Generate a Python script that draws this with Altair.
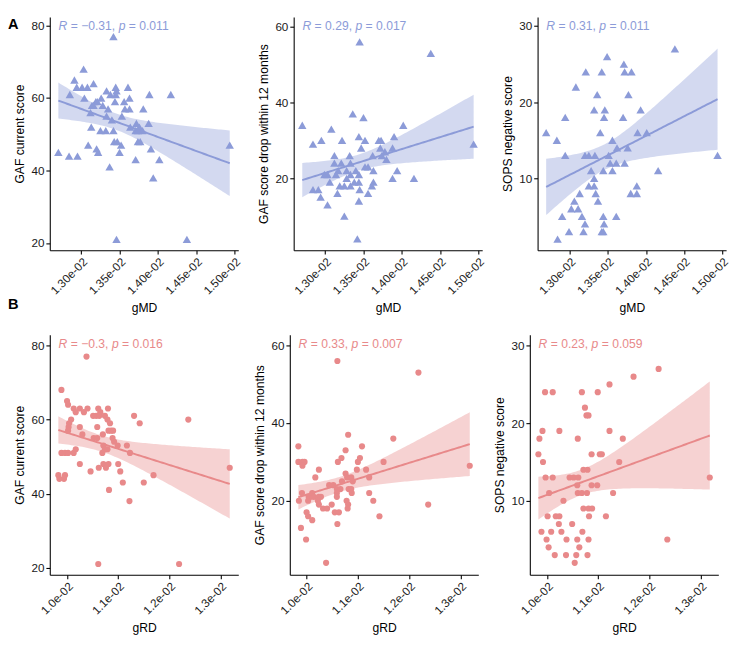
import altair as alt
import numpy as np
import pandas as pd

FONT = "Liberation Sans"
BLUE = "#8C9BD8"
RED = "#E8898A"

# ---------------- data ----------------
# gMD (x 1e-4) vs GAF current score
gmd_gaf_x = [134.2, 130.3, 129.1, 129.4, 130.1, 130.8, 131.6, 134.5, 134.6, 136.1, 128.5, 133.3,
             133.8, 134.5, 130.4, 132.6, 136.3, 138.9, 141.7, 134.4, 135.6, 131.9, 132.1, 131.4,
             131.6, 132.8, 133.5, 135.7, 136.3, 138.1, 131.2, 133.3, 135.3, 134.0, 137.2, 138.8,
             136.4, 137.6, 131.3, 138.0, 132.5, 133.2, 134.2, 137.1, 137.4, 137.4, 137.7, 134.3,
             134.7, 130.9, 135.2, 132.0, 139.1, 132.2, 135.0, 127.0, 128.4, 129.5, 137.1, 140.2,
             133.7, 139.4, 149.4, 134.6, 143.8]
gmd_gaf_y = [77, 68, 65, 63, 63, 63, 64, 63, 62, 63, 61, 62,
             61, 61, 60, 60, 60, 61, 61, 59, 59, 59, 59, 58,
             58, 58, 57, 57, 57, 57, 56, 55, 55, 54, 53, 53,
             52, 52, 52, 51, 51, 51, 51, 51, 51, 48, 48, 48,
             48, 47, 47, 46, 46, 45, 45, 45, 44, 44, 43, 43,
             41, 38, 47, 21, 21]

# gMD (x 1e-4) vs GAF score drop within 12 months
gmd_drop_x = [134.5, 143.8, 133.6, 135.0, 127.0, 140.2, 130.8, 128.4, 129.5, 132.2, 134.4, 135.2,
              137.0, 137.3, 139.0, 134.7, 137.2, 138.8, 149.4, 131.2, 133.2, 136.2, 137.4, 137.8,
              138.0, 131.2, 132.1, 133.3, 135.6, 135.2, 131.7, 132.8, 134.0, 136.3, 139.4, 129.9,
              130.3, 131.4, 133.3, 134.4, 132.8, 138.8, 141.6, 130.6, 133.8, 134.4, 136.3, 131.9,
              132.5, 133.3, 136.1, 128.4, 129.1, 134.5, 131.6, 135.6, 129.4, 134.4, 130.3, 132.5,
              134.2]
gmd_drop_y = [56, 53, 37, 36, 34, 34, 33, 29, 30, 30, 31, 30,
              30, 30, 31, 28, 28, 28, 29, 26, 26, 26, 26, 27,
              25, 24, 24, 24, 23, 23, 22, 22, 22, 22, 22, 21,
              21, 21, 21, 21, 20, 20, 20, 19, 19, 19, 19, 18,
              18, 18, 18, 17, 17, 17, 16, 16, 15, 14, 13, 10,
              4]

# gMD (x 1e-4) vs SOPS negative score
gmd_sops_x = [143.8, 134.9, 137.1, 132.1, 134.2, 137.2, 138.1, 130.8, 133.6, 137.7, 133.2, 134.6,
              139.3, 129.4, 134.5, 137.0, 126.9, 134.0, 138.9, 140.1, 128.3, 135.6, 136.2, 137.6,
              129.4, 132.0, 132.5, 133.3, 135.1, 149.4, 135.3, 136.1, 137.2, 132.8, 134.4, 135.6,
              141.6, 133.2, 132.5, 133.2, 138.8, 131.3, 133.4, 138.0, 138.8, 130.6, 133.7, 130.2,
              131.1, 129.0, 131.6, 134.4, 136.1, 132.0, 134.5, 129.9, 131.8, 134.2, 134.4, 128.4]
gmd_sops_y = [27, 26, 25, 24, 24, 24, 24, 22, 21, 21, 19, 19,
              19, 18, 18, 18, 16, 16, 16, 16, 15, 15, 14, 14,
              13, 13, 13, 13, 13, 13, 12, 12, 12, 11, 11, 11,
              11, 10, 9, 9, 9, 8, 8, 8, 8, 7, 7, 6,
              6, 5, 5, 5, 5, 4, 4, 3, 3, 3, 3, 2]

# gRD (x 1e-3) vs GAF current score
grd_gaf_x = [10.38, 9.89, 10.00, 10.02, 10.13, 10.17, 10.25, 10.33, 10.40, 10.61, 10.65, 10.80,
             10.51, 10.57, 10.63, 10.74, 11.31, 12.37, 10.08, 10.04, 10.03, 10.02, 10.79, 10.84,
             11.42, 10.25, 10.59, 10.81, 10.86, 10.90, 10.30, 10.70, 10.52, 10.59, 10.89, 10.92,
             10.99, 11.17, 10.71, 10.79, 10.74, 10.17, 10.69, 11.23, 9.89, 9.96, 10.02, 10.13,
             10.71, 10.81, 10.25, 11.00, 10.62, 10.76, 13.18, 10.46, 11.04, 9.83, 9.96, 9.85,
             9.94, 11.69, 11.09, 11.50, 10.82, 11.22, 10.61, 12.19]
grd_gaf_y = [77, 68, 65, 64, 63, 62, 63, 62, 63, 63, 62, 63,
             61, 61, 61, 61, 61, 60, 60, 59, 58, 57, 60, 59,
             59, 58, 58, 57, 57, 57, 56, 56, 55, 55, 55, 54,
             53, 53, 53, 52, 52, 52, 51, 51, 51, 51, 51, 51,
             48, 48, 48, 48, 47, 47, 47, 46, 46, 45, 45, 44,
             44, 45, 43, 43, 41, 38, 21, 21]

# gRD (x 1e-3) vs GAF score drop within 12 months
grd_drop_x = [10.60, 12.18, 10.81, 11.69, 9.84, 11.08, 10.76, 10.68, 10.61, 11.04, 11.00, 9.84,
              9.92, 9.96, 9.92, 11.50, 10.24, 10.98, 11.16, 10.76, 10.79, 10.69, 10.87, 10.90,
              11.22, 10.17, 13.18, 10.44, 10.52, 10.59, 10.82, 10.87, 10.66, 10.59, 10.88, 9.91,
              10.11, 11.22, 10.04, 10.08, 10.14, 10.24, 10.28, 10.59, 9.85, 10.03, 10.22, 10.78,
              10.81, 10.80, 11.30, 10.24, 10.32, 10.40, 10.49, 12.37, 10.55, 10.63, 10.00, 10.03,
              11.42, 10.11, 10.60, 9.89, 9.99, 10.38]
grd_drop_y = [56, 53, 37, 36, 34, 34, 33, 31, 30, 31, 30, 30,
              30, 30, 29, 30, 28, 28, 28, 27, 26, 25, 26, 25,
              26, 26, 29, 24, 24, 23, 23, 23, 23, 22, 22, 22,
              22, 22, 21, 21, 21, 21, 21, 21, 20, 20, 20, 20,
              19, 18, 20, 19, 18, 18, 19, 19, 17, 17, 17, 16,
              16, 15, 14, 13, 10, 4]

# gRD (x 1e-3) vs SOPS negative score
grd_sops_x = [12.18, 11.69, 11.22, 9.96, 10.11, 10.68, 10.99, 10.74, 10.77, 10.81, 9.91, 10.24,
              11.22, 9.85, 10.60, 11.48, 9.83, 10.87, 11.03, 11.07, 9.92, 11.41, 10.71, 10.79,
              9.97, 10.11, 10.44, 10.52, 10.61, 13.18, 10.59, 10.87, 10.98, 10.04, 10.60, 10.68,
              10.78, 11.29, 10.32, 10.71, 10.81, 10.88, 10.01, 10.17, 10.24, 10.82, 11.15, 10.23,
              10.49, 9.89, 10.08, 10.28, 10.69, 9.99, 10.38, 10.59, 10.81, 12.35, 10.03, 10.63,
              10.15, 10.37, 10.57, 10.79, 10.54]
grd_sops_y = [27, 26, 25, 24, 24, 24, 24, 22, 21, 21, 19, 19,
              19, 18, 18, 18, 16, 16, 16, 16, 15, 15, 14, 14,
              13, 13, 13, 13, 13, 13, 12, 12, 12, 11, 11, 11,
              11, 11, 10, 9, 9, 9, 8, 8, 8, 8, 8, 7,
              7, 6, 6, 6, 6, 5, 5, 5, 5, 5, 4, 4,
              3, 3, 3, 3, 2]

stat_labels = {
    "a1": ("\u22120.31", "0.011"), "a2": ("0.29", "0.017"), "a3": ("0.31", "0.011"),
    "b1": ("\u22120.3", "0.016"), "b2": ("0.33", "0.007"), "b3": ("0.23", "0.059"),
}
gmd_ticks = [0.013, 0.0135, 0.014, 0.0145, 0.015]
grd_ticks = [0.010, 0.011, 0.012, 0.013]

# ---------------- helpers ----------------
W = 194
H_TOP = 240
H_BOT = 247
LBL_SIZE = 12.5

ARIAL_W = {"R": 0.722, " ": 0.278, "=": 0.584, "\u2212": 0.584, ".": 0.278,
           ",": 0.278, "p": 0.556}


def text_w(s, size):
    return sum(ARIAL_W.get(c, 0.556) for c in s) * size


def fit_band(x, y, n=80, t=2.0):
    x = np.asarray(x, float)
    y = np.asarray(y, float)
    b, a = np.polyfit(x, y, 1)
    resid = y - (a + b * x)
    s = np.sqrt(np.sum(resid ** 2) / (len(x) - 2))
    xs = np.linspace(x.min(), x.max(), n)
    sxx = np.sum((x - x.mean()) ** 2)
    se = s * np.sqrt(1.0 / len(x) + (xs - x.mean()) ** 2 / sxx)
    fit = a + b * xs
    return pd.DataFrame({"x": xs, "fit": fit, "lo": fit - t * se, "hi": fit + t * se})


def panel(x, y, color, kind, ytitle, xtitle, ydom, yticks, xticks, xfmt, stat, height, letters=()):
    df = pd.DataFrame({"x": x, "y": y})
    band = fit_band(x, y)
    xmin, xmax = min(x), max(x)
    r = xmax - xmin
    xscale = alt.Scale(domain=[xmin - 0.05 * r, xmax + 0.05 * r], nice=False, zero=False)
    yscale = alt.Scale(domain=ydom, nice=False, zero=False)
    xaxis = alt.Axis(values=xticks, title=xtitle,
                     labelExpr=f"replace(format(datum.value, '{xfmt}'), 'e-', 'e-0')",
                     labelAngle=-45, labelAlign="right", labelBaseline="top",
                     labelOverlap=False, labelPadding=2, titlePadding=6)
    yaxis = alt.Axis(values=yticks, title=ytitle, labelPadding=2, titlePadding=5,
                     labelOverlap=False)

    def X(f):
        return alt.X(f"{f}:Q", scale=xscale, axis=xaxis)

    def Y(f):
        return alt.Y(f"{f}:Q", scale=yscale, axis=yaxis)

    area = alt.Chart(band).mark_area(color=color, opacity=0.38).encode(x=X("x"), y=Y("lo"), y2="hi:Q")
    line = alt.Chart(band).mark_line(color=color, strokeWidth=2).encode(x=X("x"), y=Y("fit"))
    if kind == "tri":
        pts = alt.Chart(df).mark_point(shape="triangle-up", filled=True, size=75, color=color,
                                       opacity=1).encode(x=X("x"), y=Y("y"))
    else:
        pts = alt.Chart(df).mark_circle(size=40, color=color, opacity=1).encode(x=X("x"), y=Y("y"))

    layers = [area, line, pts]
    rval, pval = stat
    # label pieces: (text, style, width of a leading space)
    sp = text_w(" ", LBL_SIZE)
    parts = [("R", "italic", 0), (f"= {rval},", "normal", sp), ("p", "italic", sp),
             (f"= {pval}", "normal", sp)]
    one = pd.DataFrame({"k": [0]})
    x0 = 9
    for s, style, lead in parts:
        x0 += lead
        layers.append(alt.Chart(one).mark_text(text=s, font=FONT, fontSize=LBL_SIZE, fontStyle=style,
                                               color=color, align="left", baseline="middle")
                      .encode(x=alt.value(x0), y=alt.value(9.5)))
        x0 += text_w(s, LBL_SIZE)
    for letter, lx, ly in letters:
        layers.append(alt.Chart(one).mark_text(text=letter, font=FONT, fontSize=15, fontWeight="bold",
                                               color="black", align="left", baseline="top")
                      .encode(x=alt.value(lx), y=alt.value(ly)))
    return alt.layer(*layers).properties(width=W, height=height)


gmd = lambda v: [u * 1e-4 for u in v]
grd = lambda v: [u * 1e-3 for u in v]

a1 = panel(gmd(gmd_gaf_x), gmd_gaf_y, BLUE, "tri", "GAF current score", "gMD", [18.0, 82.4],
           [20, 40, 60, 80], gmd_ticks, ".2e", stat_labels["a1"], H_TOP,
           letters=[("A", -43, 0), ("B", -43, 289)])
a2 = panel(gmd(gmd_drop_x), gmd_drop_y, BLUE, "tri", "GAF score drop within 12 months", "gMD",
           [1.0, 62.6], [20, 40, 60], gmd_ticks, ".2e", stat_labels["a2"], H_TOP)
a3 = panel(gmd(gmd_sops_x), gmd_sops_y, BLUE, "tri", "SOPS negative score", "gMD", [0.55, 31.2],
           [10, 20, 30], gmd_ticks, ".2e", stat_labels["a3"], H_TOP)
b1 = panel(grd(grd_gaf_x), grd_gaf_y, RED, "dot", "GAF current score", "gRD", [18.1, 82.9],
           [20, 40, 60, 80], grd_ticks, ".1e", stat_labels["b1"], H_BOT)
b2 = panel(grd(grd_drop_x), grd_drop_y, RED, "dot", "GAF score drop within 12 months", "gRD",
           [0.93, 62.75], [20, 40, 60], grd_ticks, ".1e", stat_labels["b2"], H_BOT)
b3 = panel(grd(grd_sops_x), grd_sops_y, RED, "dot", "SOPS negative score", "gRD", [0.46, 31.4],
           [10, 20, 30], grd_ticks, ".1e", stat_labels["b3"], H_BOT)

top = alt.hconcat(a1, a2, a3, spacing=15)
bot = alt.hconcat(b1, b2, b3, spacing=15)

chart = (
    alt.vconcat(top, bot, spacing=21)
    .properties(padding=0, background="white")
    .configure_view(stroke=None)
    .configure_axis(
        grid=False, domainColor="black", domainWidth=1.1, tickColor="black", tickSize=4,
        tickWidth=1.1, labelFont=FONT, labelFontSize=12, labelColor="#1a1a1a",
        titleFont=FONT, titleFontSize=12.5, titleFontWeight="normal", titleColor="black",
    )
)

chart.save("out.html", embed_options={"renderer": "svg", "actions": False})
